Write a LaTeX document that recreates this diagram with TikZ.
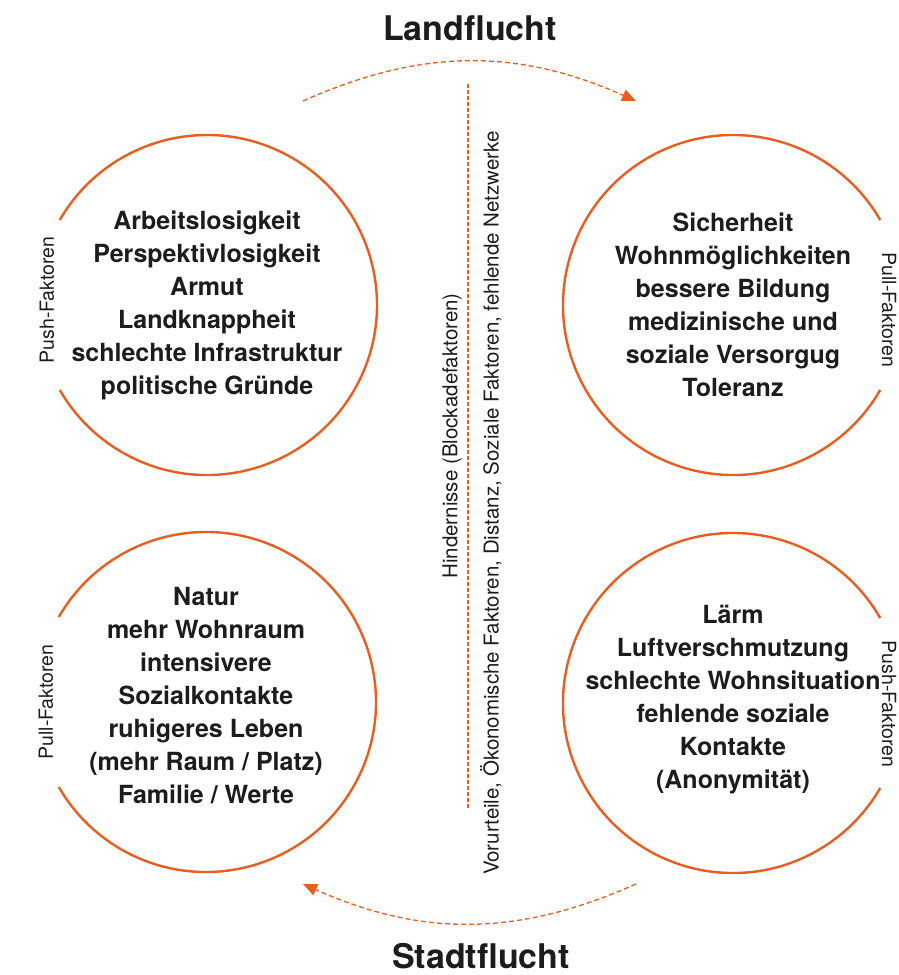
\documentclass[tikz,border=0pt]{standalone}
\usepackage{fontspec}
\setmainfont{TeX Gyre Heros}
\usetikzlibrary{arrows.meta}
\definecolor{flucht}{RGB}{232,93,32}
\definecolor{ink}{RGB}{28,28,28}
\tikzset{
  ring/.style={draw=flucht, line width=2.4pt},
  factors/.style={align=center, text=ink, inner sep=0pt, font=\fontsize{25}{33}\selectfont\bfseries},
  sidelabel/.style={text=ink, inner sep=0pt, font=\fontsize{19.5}{22}\selectfont},
  hinder/.style={text=ink, inner sep=0pt, rotate=90, font=\fontsize{20.5}{24}\selectfont},
  heading/.style={text=ink, inner sep=0pt, font=\fontsize{34}{40}\selectfont\bfseries},
  flow/.style={draw=flucht, line width=1.3pt, dash pattern=on 5pt off 3pt, -{Triangle[length=14pt,width=12pt]}},
  barrier/.style={draw=flucht, line width=1.5pt, dash pattern=on 4pt off 2pt}
}
\begin{document}
\begin{tikzpicture}[x=1pt,y=1pt]
\useasboundingbox (0,0) rectangle (899,-975);
\clip (0,0) rectangle (899,-975);
\coordinate (c1) at (207,-305);
\coordinate (c2) at (733,-305);
\coordinate (c3) at (206,-702);
\coordinate (c4) at (733,-703);
% kreise, offen an der seite
\draw[ring] ([shift={(150:170)}]c1) arc[start angle=150, end angle=-150, radius=170];
\draw[ring] ([shift={(30:170)}]c2) arc[start angle=30, end angle=330, radius=170];
\draw[ring] ([shift={(150:170)}]c3) arc[start angle=150, end angle=-150, radius=170];
\draw[ring] ([shift={(30:170)}]c4) arc[start angle=30, end angle=330, radius=170];
\node[factors] (push1) at (c1) {Arbeitslosigkeit\\Perspektivlosigkeit\\Armut\\Landknappheit\\schlechte Infrastruktur\\politische Gründe};
\node[factors] (pull1) at (c2) {Sicherheit\\Wohnmöglichkeiten\\bessere Bildung\\medizinische und\\soziale Versorgug\\Toleranz};
\node[factors] (pull2) at ([yshift=6pt]c3) {Natur\\mehr Wohnraum\\intensivere\\Sozialkontakte\\ruhigeres Leben\\(mehr Raum / Platz)\\Familie / Werte};
\node[factors] (push2) at ([yshift=3pt]c4) {Lärm\\Luftverschmutzung\\schlechte Wohnsituation\\fehlende soziale\\Kontakte\\(Anonymität)};
\node[sidelabel, rotate=90] (push1lab) at (47,-300) {Push-Faktoren};
\node[sidelabel, rotate=-90] (pull1lab) at (889,-310) {Pull-Faktoren};
\node[sidelabel, rotate=90] (pull2lab) at (46,-702) {Pull-Faktoren};
\node[sidelabel, rotate=-90] (push2lab) at (889,-704) {Push-Faktoren};
\node[heading] (land) at (470,-28) {Landflucht};
\node[heading] (stadt) at (481,-956) {Stadtflucht};
% hindernisse in der mitte
\coordinate (bartop) at (468,-84);
\coordinate (barbot) at (468,-808);
\draw[barrier] (bartop) -- (barbot);
\node[hinder] (hind) at (452,-436) {Hindernisse (Blockadefaktoren)};
\node[hinder] (vorurteile) at (491,-503) {Vorurteile, Ökonomische Faktoren, Distanz, Soziale Faktoren, fehlende Netzwerke};
\coordinate (landA) at (303,-101);
\coordinate (landB) at (636,-101);
\draw[flow] (landA) to[bend left=24] (landB);
\coordinate (stadtA) at (636,-884);
\coordinate (stadtB) at (303,-884);
\draw[flow] (stadtA) to[bend left=24] (stadtB);
\end{tikzpicture}
\end{document}
